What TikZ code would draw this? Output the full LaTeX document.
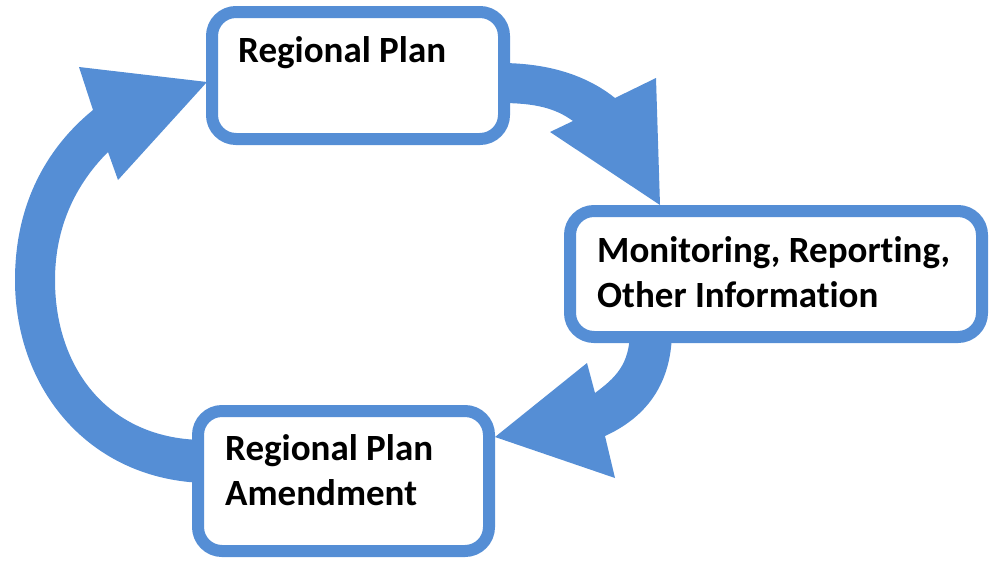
\documentclass[tikz,border=0pt]{standalone}
\usepackage{fontspec}
\setmainfont{Carlito}[Ligatures={NoCommon}]
\definecolor{cycblue}{HTML}{558ED5}
\begin{document}
\begin{tikzpicture}[x=1pt,y=-1pt,
  box/.style={draw=cycblue,line width=12pt,fill=white,rounded corners=24pt,inner sep=0pt},
  lbl/.style={inner sep=0pt,anchor=base west,align=left,font=\fontsize{37}{45}\selectfont\bfseries},
  bigarrow/.style={fill=cycblue,draw=none}]
\useasboundingbox (0,0) rectangle (990,562);
% arrow: Regional Plan -> Monitoring
\path[bigarrow] (500,63) .. controls (560,63) and (595,82) .. (615,98)
  -- (656,78) -- (660,205) -- (550,132) -- (573,121)
  .. controls (555,108) and (535,103) .. (500,103) -- cycle;
% arrow: Monitoring -> Amendment
\path[bigarrow] (672,330) .. controls (672,390) and (640,420) .. (605,436)
  -- (615,478) -- (495,437) -- (587,363) -- (595,393)
  .. controls (615,378) and (630,365) .. (630,330) -- cycle;
% arrow: Amendment -> Regional Plan
\path[bigarrow] (205,483) .. controls (90,480) and (15,390) .. (15,280)
  .. controls (15,200) and (50,145) .. (93,110)
  -- (79,67) -- (207,82) -- (118,180) -- (108,152)
  .. controls (70,190) and (55,235) .. (55,280)
  .. controls (55,370) and (110,440) .. (205,440) -- cycle;
% boxes
\node[box,minimum width=292pt,minimum height=127pt] (plan) at (358,75.5) {};
\node[box,minimum width=412pt,minimum height=126pt] (mon) at (776,274) {};
\node[box,minimum width=291pt,minimum height=140pt] (amend) at (343.5,481) {};
% labels (base anchor = baseline of last line)
\node[lbl] (plant) at (238,62) {Regional Plan};
\node[lbl] (mont) at (597,307) {Monitoring, Reporting,\\Other Information};
\node[lbl] (amendt) at (225,505) {Regional Plan\\Amendment};
\end{tikzpicture}
\end{document}
